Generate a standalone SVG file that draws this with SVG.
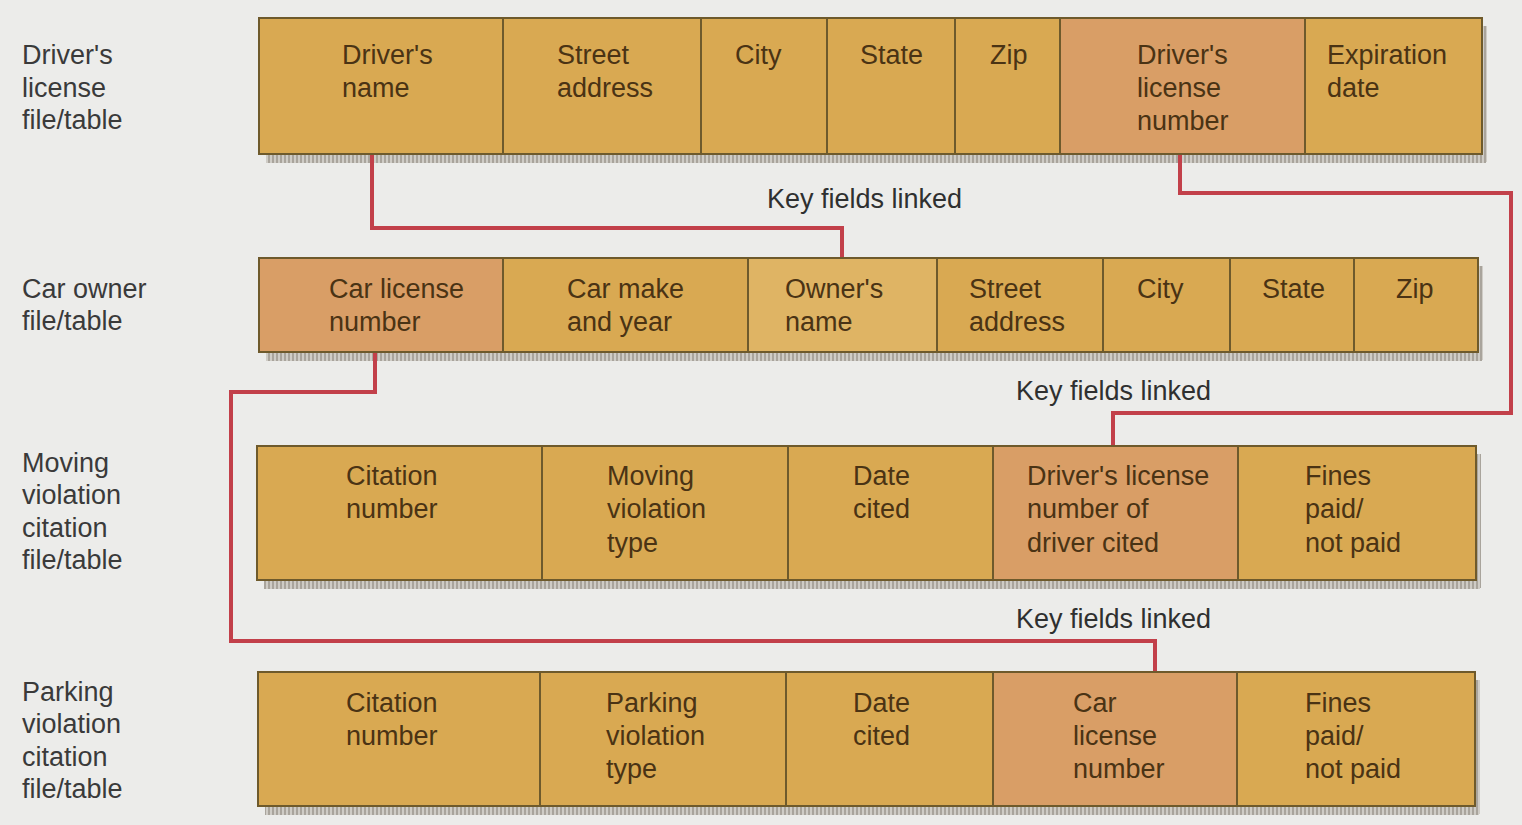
<svg xmlns="http://www.w3.org/2000/svg" width="1522" height="825" viewBox="0 0 1522 825">
<style>
.cell{fill:#d9a952;stroke:#6e5a2c;stroke-width:2}
.key{fill:#d99e66}
.lite{fill:#dfb464}
.t{font-family:"Liberation Sans",Arial,sans-serif;font-size:27px;fill:#4a3314}
.lbl{font-family:"Liberation Sans",Arial,sans-serif;font-size:27px;fill:#3a3a3a}
.kl{font-family:"Liberation Sans",Arial,sans-serif;font-size:27px;fill:#2f3030}
.link{fill:none;stroke:#c2404a;stroke-width:4}
.sh{fill:url(#hatch)}
</style>
<defs>
<pattern id="hatch" width="4" height="4" patternUnits="userSpaceOnUse">
<rect width="4" height="4" fill="#cfccc6"/>
<rect width="2" height="4" fill="#a9a49c"/>
</pattern>
</defs>
<rect width="1522" height="825" fill="#ececea"/>

<g id="labels">
<text class="lbl" x="22" y="64">Driver's</text>
<text class="lbl" x="22" y="97">license</text>
<text class="lbl" x="22" y="129">file/table</text>
<text class="lbl" x="22" y="298">Car owner</text>
<text class="lbl" x="22" y="330">file/table</text>
<text class="lbl" x="22" y="472">Moving</text>
<text class="lbl" x="22" y="504">violation</text>
<text class="lbl" x="22" y="537">citation</text>
<text class="lbl" x="22" y="569">file/table</text>
<text class="lbl" x="22" y="701">Parking</text>
<text class="lbl" x="22" y="733">violation</text>
<text class="lbl" x="22" y="766">citation</text>
<text class="lbl" x="22" y="798">file/table</text>
</g>

<g id="drivers-license-table">
<rect class="sh" x="266" y="154" width="1220" height="9"/>
<rect class="sh" x="1482" y="26" width="5" height="136"/>
<rect class="cell" x="259" y="18" width="244" height="136"/>
<rect class="cell" x="503" y="18" width="198" height="136"/>
<rect class="cell" x="701" y="18" width="126" height="136"/>
<rect class="cell" x="827" y="18" width="128" height="136"/>
<rect class="cell" x="955" y="18" width="105" height="136"/>
<rect class="cell key" x="1060" y="18" width="245" height="136"/>
<rect class="cell" x="1305" y="18" width="177" height="136"/>
<text class="t" x="342" y="64">Driver's</text>
<text class="t" x="342" y="97">name</text>
<text class="t" x="557" y="64">Street</text>
<text class="t" x="557" y="97">address</text>
<text class="t" x="735" y="64">City</text>
<text class="t" x="860" y="64">State</text>
<text class="t" x="990" y="64">Zip</text>
<text class="t" x="1137" y="64">Driver's</text>
<text class="t" x="1137" y="97">license</text>
<text class="t" x="1137" y="130">number</text>
<text class="t" x="1327" y="64">Expiration</text>
<text class="t" x="1327" y="97">date</text>
</g>

<g id="car-owner-table">
<rect class="sh" x="266" y="352" width="1216" height="9"/>
<rect class="sh" x="1478" y="266" width="5" height="94"/>
<rect class="cell key" x="259" y="258" width="244" height="94"/>
<rect class="cell" x="503" y="258" width="245" height="94"/>
<rect class="cell lite" x="748" y="258" width="189" height="94"/>
<rect class="cell" x="937" y="258" width="166" height="94"/>
<rect class="cell" x="1103" y="258" width="127" height="94"/>
<rect class="cell" x="1230" y="258" width="124" height="94"/>
<rect class="cell" x="1354" y="258" width="124" height="94"/>
<text class="t" x="329" y="298">Car license</text>
<text class="t" x="329" y="331">number</text>
<text class="t" x="567" y="298">Car make</text>
<text class="t" x="567" y="331">and year</text>
<text class="t" x="785" y="298">Owner's</text>
<text class="t" x="785" y="331">name</text>
<text class="t" x="969" y="298">Street</text>
<text class="t" x="969" y="331">address</text>
<text class="t" x="1137" y="298">City</text>
<text class="t" x="1262" y="298">State</text>
<text class="t" x="1396" y="298">Zip</text>
</g>

<g id="moving-violation-table">
<rect class="sh" x="264" y="580" width="1216" height="9"/>
<rect class="sh" x="1476" y="454" width="5" height="134"/>
<rect class="cell" x="257" y="446" width="285" height="134"/>
<rect class="cell" x="542" y="446" width="246" height="134"/>
<rect class="cell" x="788" y="446" width="205" height="134"/>
<rect class="cell key" x="993" y="446" width="245" height="134"/>
<rect class="cell" x="1238" y="446" width="238" height="134"/>
<text class="t" x="346" y="485">Citation</text>
<text class="t" x="346" y="518">number</text>
<text class="t" x="607" y="485">Moving</text>
<text class="t" x="607" y="518">violation</text>
<text class="t" x="607" y="552">type</text>
<text class="t" x="853" y="485">Date</text>
<text class="t" x="853" y="518">cited</text>
<text class="t" x="1027" y="485">Driver's license</text>
<text class="t" x="1027" y="518">number of</text>
<text class="t" x="1027" y="552">driver cited</text>
<text class="t" x="1305" y="485">Fines</text>
<text class="t" x="1305" y="518">paid/</text>
<text class="t" x="1305" y="552">not paid</text>
</g>

<g id="parking-violation-table">
<rect class="sh" x="265" y="806" width="1214" height="9"/>
<rect class="sh" x="1475" y="680" width="5" height="134"/>
<rect class="cell" x="258" y="672" width="282" height="134"/>
<rect class="cell" x="540" y="672" width="246" height="134"/>
<rect class="cell" x="786" y="672" width="207" height="134"/>
<rect class="cell key" x="993" y="672" width="244" height="134"/>
<rect class="cell" x="1237" y="672" width="238" height="134"/>
<text class="t" x="346" y="712">Citation</text>
<text class="t" x="346" y="745">number</text>
<text class="t" x="606" y="712">Parking</text>
<text class="t" x="606" y="745">violation</text>
<text class="t" x="606" y="778">type</text>
<text class="t" x="853" y="712">Date</text>
<text class="t" x="853" y="745">cited</text>
<text class="t" x="1073" y="712">Car</text>
<text class="t" x="1073" y="745">license</text>
<text class="t" x="1073" y="778">number</text>
<text class="t" x="1305" y="712">Fines</text>
<text class="t" x="1305" y="745">paid/</text>
<text class="t" x="1305" y="778">not paid</text>
</g>

<g id="connectors">
<polyline class="link" points="372,155 372,228 842,228 842,257"/>
<polyline class="link" points="1180,155 1180,193 1511,193 1511,413 1113,413 1113,445"/>
<polyline class="link" points="375,353 375,392 231,392 231,641 1155,641 1155,671"/>
<text class="kl" x="767" y="208">Key fields linked</text>
<text class="kl" x="1016" y="400">Key fields linked</text>
<text class="kl" x="1016" y="628">Key fields linked</text>
</g>
</svg>
